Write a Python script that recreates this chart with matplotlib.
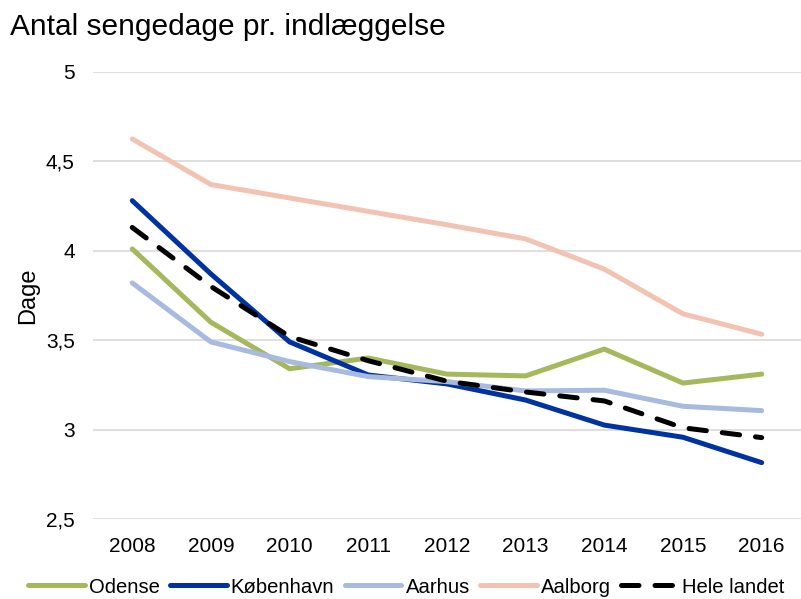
import matplotlib
matplotlib.use("Agg")
import matplotlib.pyplot as plt
from matplotlib.ticker import FixedLocator, FuncFormatter

years = ["2008", "2009", "2010", "2011", "2012", "2013", "2014", "2015", "2016"]
odense = [4.01, 3.60, 3.34, 3.40, 3.31, 3.30, 3.45, 3.26, 3.31]
kobenhavn = [4.28, 3.87, 3.49, 3.305, 3.255, 3.165, 3.025, 2.957, 2.815]
aarhus = [3.82, 3.49, 3.38, 3.296, 3.268, 3.216, 3.22, 3.13, 3.106]
aalborg = [4.625, 4.37, 4.295, 4.22, 4.145, 4.066, 3.897, 3.647, 3.533]
hele_landet = [4.13, 3.80, 3.52, 3.385, 3.27, 3.21, 3.16, 3.01, 2.955]
yticks = [2.5, 3, 3.5, 4, 4.5, 5]

plt.rcParams['font.family'] = ['Liberation Sans', 'DejaVu Sans']

fig = plt.figure(figsize=(8.01, 5.99), dpi=100)
ax = fig.add_axes([0.116, 0.1336, 0.884, 0.7464])

x = list(range(len(years)))
lw = 3.6
ax.plot(x, odense, color="#a5b85c", lw=lw, label="Odense", solid_capstyle="round")
ax.plot(x, kobenhavn, color="#0033a0", lw=lw, label="København", solid_capstyle="round")
ax.plot(x, aarhus, color="#a8badf", lw=lw, label="Aarhus", solid_capstyle="round")
ax.plot(x, aalborg, color="#f2c2b2", lw=lw, label="Aalborg", solid_capstyle="round")
ax.plot(x, hele_landet, color="black", lw=lw, label="Hele landet", dashes=(3.5, 3.2), dash_capstyle="round")

ax.set_xlim(-0.5, len(years) - 0.5)
ax.set_ylim(2.5, 5)
ax.set_xticks(x)
ax.set_xticklabels(years)
ax.yaxis.set_major_locator(FixedLocator(yticks))
ax.yaxis.set_major_formatter(FuncFormatter(lambda v, p: ("%g" % v).replace(".", ",")))
ax.grid(axis="y", color="#d9d9d9", lw=1.2)
ax.set_axisbelow(True)
for s in ax.spines.values():
    s.set_visible(False)
ax.tick_params(length=0, labelsize=15, colors="black")
ax.tick_params(axis="x", pad=13)
ax.tick_params(axis="y", pad=13)
ax.set_ylabel("Dage", fontsize=17, labelpad=5)

fig.text(0.012, 0.955, "Antal sengedage pr. indlæggelse", fontsize=21.5, va="center", ha="left")

fig.legend(loc="center", bbox_to_anchor=(0.507, 0.02), ncol=5, frameon=False,
           fontsize=14.6, handlelength=2.8, handletextpad=0.2, columnspacing=0.5,
           borderaxespad=0)

fig.savefig("out.png", dpi=100)
